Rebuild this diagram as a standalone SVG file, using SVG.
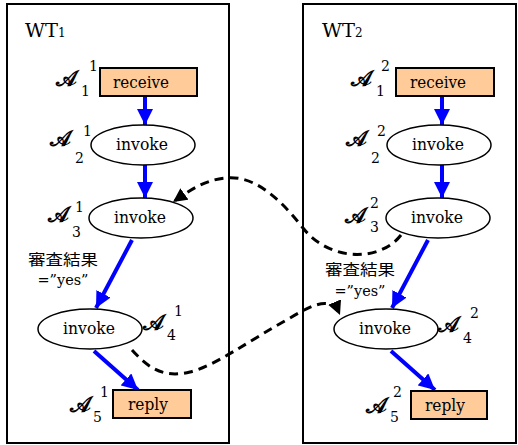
<svg xmlns="http://www.w3.org/2000/svg" width="518" height="445" viewBox="0 0 518 445">
<defs>
<style>
.frame{fill:#fff;stroke:#000;stroke-width:2}
.act{fill:#FFCC99;stroke:#000;stroke-width:2}
.ell{fill:#fff;stroke:#000;stroke-width:1.5}
.lbl{font-family:"DejaVu Serif",serif;font-size:17px;fill:#000;text-anchor:middle}
.sa{font-family:"DejaVu Serif",serif;font-size:22px;font-weight:bold;fill:#000}
.ix{font-family:"DejaVu Serif",serif;font-size:14px;fill:#000}
.cond{font-family:"DejaVu Serif","Noto Sans CJK JP",serif;font-size:15px;fill:#000;text-anchor:middle}
.cjk{font-family:"Noto Sans CJK JP",sans-serif;font-size:15px;fill:#000;text-anchor:middle}
.wt{font-family:"DejaVu Serif",serif;font-size:19px;fill:#000}
.wts{font-family:"DejaVu Serif",serif;font-size:12px;fill:#000}
.flow{fill:none;stroke:#0000FF;stroke-width:4}
.msg{fill:none;stroke:#000;stroke-width:3;stroke-dasharray:9 6}
</style>
<marker id="blueHead" markerUnits="userSpaceOnUse" markerWidth="16" markerHeight="16" viewBox="0 0 16 16" refX="16" refY="8" orient="auto">
<path d="M0,0 L16,8 L0,16 z" fill="#0000FF"/>
</marker>
<marker id="blackHead" markerUnits="userSpaceOnUse" markerWidth="14" markerHeight="14" viewBox="0 0 14 14" refX="14" refY="7" orient="auto">
<path d="M0,0 L14,7 L0,14 z" fill="#000"/>
</marker>
</defs>
<rect width="518" height="445" fill="#fff"/>

<g id="WT1">
<rect class="frame" x="7" y="4" width="222" height="439"/>
<text class="wt" x="25" y="37" textLength="33" lengthAdjust="spacingAndGlyphs">WT</text>
<text class="wts" x="58" y="37">1</text>
</g>
<g id="WT2">
<rect class="frame" x="303" y="4" width="213" height="439"/>
<text class="wt" x="322" y="37" textLength="33" lengthAdjust="spacingAndGlyphs">WT</text>
<text class="wts" x="355" y="37">2</text>
</g>

<g id="connectors">
<line class="flow" x1="145" y1="96" x2="145" y2="125" marker-end="url(#blueHead)"/>
<line class="flow" x1="145" y1="165" x2="145" y2="198" marker-end="url(#blueHead)"/>
<line class="flow" x1="132" y1="240" x2="96" y2="308" marker-end="url(#blueHead)"/>
<line class="flow" x1="94" y1="351" x2="138" y2="390" marker-end="url(#blueHead)"/>
<line class="flow" x1="442" y1="96" x2="442" y2="125" marker-end="url(#blueHead)"/>
<line class="flow" x1="442" y1="165" x2="442" y2="198" marker-end="url(#blueHead)"/>
<line class="flow" x1="428" y1="240" x2="392" y2="308" marker-end="url(#blueHead)"/>
<line class="flow" x1="391" y1="351" x2="435" y2="390" marker-end="url(#blueHead)"/>
<path class="msg" d="M401,235 C380,262 330,262 303,228 C275,192 250,175 225,178 C205,180 190,190 173,202" marker-end="url(#blackHead)"/>
<path class="msg" d="M132,350 C150,370 165,378 190,372 C215,366 250,340 290,318 C315,303 332,296 340,315" marker-end="url(#blackHead)"/>
<text class="cjk" x="63" y="265" textLength="70" lengthAdjust="spacingAndGlyphs">審査結果</text>
<text class="cond" x="63" y="285" textLength="51" lengthAdjust="spacingAndGlyphs">=”yes”</text>
<text class="cjk" x="360" y="275" textLength="70" lengthAdjust="spacingAndGlyphs">審査結果</text>
<text class="cond" x="360" y="296" textLength="51" lengthAdjust="spacingAndGlyphs">=”yes”</text>
</g>

<g id="A11">
<rect class="act" x="100" y="68" width="97" height="28"/>
<text class="lbl" x="141" y="88" textLength="56" lengthAdjust="spacingAndGlyphs">receive</text>
<text class="sa" x="56" y="86">𝒜</text><text class="ix" x="89" y="71">1</text><text class="ix" x="81" y="96">1</text>
</g>
<g id="A21">
<ellipse class="ell" cx="143" cy="145" rx="52" ry="20"/>
<text class="lbl" x="142" y="150" textLength="52" lengthAdjust="spacingAndGlyphs">invoke</text>
<text class="sa" x="50" y="146">𝒜</text><text class="ix" x="83" y="136">1</text><text class="ix" x="75" y="163">2</text>
</g>
<g id="A31">
<ellipse class="ell" cx="141" cy="218" rx="52" ry="20"/>
<text class="lbl" x="140" y="223" textLength="52" lengthAdjust="spacingAndGlyphs">invoke</text>
<text class="sa" x="48" y="222">𝒜</text><text class="ix" x="75" y="212">1</text><text class="ix" x="72" y="237">3</text>
</g>
<g id="A41">
<ellipse class="ell" cx="90" cy="329" rx="52" ry="20"/>
<text class="lbl" x="89" y="334" textLength="52" lengthAdjust="spacingAndGlyphs">invoke</text>
<text class="sa" x="143" y="330">𝒜</text><text class="ix" x="174" y="316">1</text><text class="ix" x="167" y="340">4</text>
</g>
<g id="A51">
<rect class="act" x="113" y="390" width="78" height="28"/>
<text class="lbl" x="148" y="410" textLength="40" lengthAdjust="spacingAndGlyphs">reply</text>
<text class="sa" x="70" y="412">𝒜</text><text class="ix" x="100" y="397">1</text><text class="ix" x="93" y="422">5</text>
</g>

<g id="A12">
<rect class="act" x="396" y="68" width="98" height="28"/>
<text class="lbl" x="438" y="88" textLength="56" lengthAdjust="spacingAndGlyphs">receive</text>
<text class="sa" x="351" y="86">𝒜</text><text class="ix" x="381" y="71">2</text><text class="ix" x="376" y="96">1</text>
</g>
<g id="A22">
<ellipse class="ell" cx="439" cy="145" rx="52" ry="20"/>
<text class="lbl" x="438" y="150" textLength="52" lengthAdjust="spacingAndGlyphs">invoke</text>
<text class="sa" x="346" y="146">𝒜</text><text class="ix" x="377" y="136">2</text><text class="ix" x="371" y="163">2</text>
</g>
<g id="A32">
<ellipse class="ell" cx="438" cy="218" rx="52" ry="20"/>
<text class="lbl" x="437" y="223" textLength="52" lengthAdjust="spacingAndGlyphs">invoke</text>
<text class="sa" x="345" y="223">𝒜</text><text class="ix" x="370" y="208">2</text><text class="ix" x="370" y="232">3</text>
</g>
<g id="A42">
<ellipse class="ell" cx="386" cy="329" rx="52" ry="20"/>
<text class="lbl" x="385" y="334" textLength="52" lengthAdjust="spacingAndGlyphs">invoke</text>
<text class="sa" x="438" y="332">𝒜</text><text class="ix" x="470" y="318">2</text><text class="ix" x="463" y="343">4</text>
</g>
<g id="A52">
<rect class="act" x="411" y="391" width="76" height="28"/>
<text class="lbl" x="445" y="411" textLength="40" lengthAdjust="spacingAndGlyphs">reply</text>
<text class="sa" x="366" y="413">𝒜</text><text class="ix" x="393" y="397">2</text><text class="ix" x="390" y="422">5</text>
</g>
</svg>
